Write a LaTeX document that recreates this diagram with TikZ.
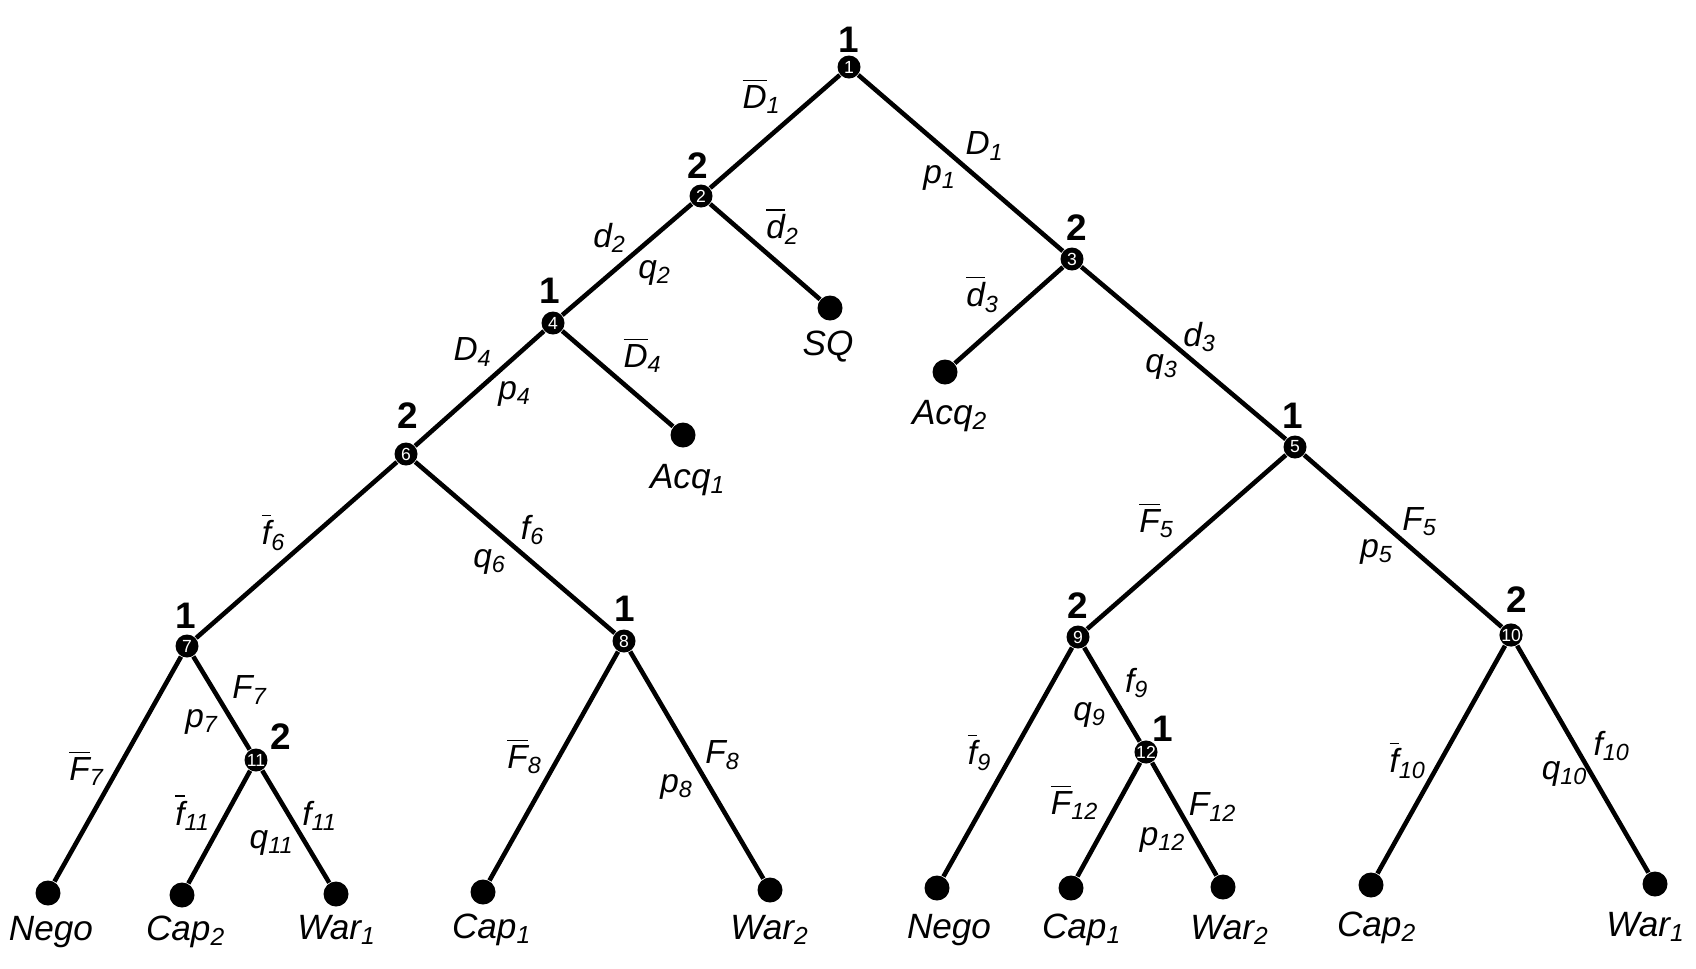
\documentclass[tikz,border=0pt]{standalone}
\usepackage{fontspec}
\setmainfont{Liberation Sans}
\usetikzlibrary{positioning}
\newcommand{\act}[2]{#1\textsubscript{#2}}
\newcommand{\nact}[2]{$\overline{\mbox{#1}}$\textsubscript{#2}}
\begin{document}
\begin{tikzpicture}[x=0.1mm, y=-0.1mm,
  move/.style={circle, fill=black, minimum size=2.3mm, inner sep=0pt, text=white,
               font=\fontsize{5}{5}\selectfont},
  leaf/.style={circle, fill=black, minimum size=2.5mm, inner sep=0pt},
  branch/.style={line width=1.3pt},
  player/.style={font=\bfseries\fontsize{10.5}{12}\selectfont, inner sep=1pt},
  actlab/.style={font=\itshape\fontsize{9.5}{11}\selectfont, inner sep=1pt},
  payoff/.style={font=\itshape\fontsize{10}{12}\selectfont, inner sep=1pt}]
\useasboundingbox (0,0) rectangle (1696,968);
% decision nodes
\node[move] (n1) at (849,67) {1};
\node[move] (n2) at (701,196) {2};
\node[move] (n3) at (1072,259) {3};
\node[move] (n4) at (553,323) {4};
\node[move] (n5) at (1295,447) {5};
\node[move] (n6) at (406,454) {6};
\node[move] (n7) at (187,646) {7};
\node[move] (n8) at (624,641) {8};
\node[move] (n9) at (1078,637) {9};
\node[move] (n10) at (1511,635) {10};
\node[move] (n11) at (256,760) {11};
\node[move] (n12) at (1146,752) {12};
% players
\node[player] (pl1) at (849,40) {1};
\node[player] (pl2) at (698,166) {2};
\node[player] (pl3) at (1077,228) {2};
\node[player] (pl4) at (550,291) {1};
\node[player] (pl5) at (1293,416) {1};
\node[player] (pl6) at (408,416) {2};
\node[player] (pl7) at (186,616) {1};
\node[player] (pl8) at (625,609) {1};
\node[player] (pl9) at (1078,606) {2};
\node[player] (pl10) at (1517,600) {2};
\node[player] (pl11) at (281,737) {2};
\node[player] (pl12) at (1163,729) {1};
% end points
\node[leaf] (sq) at (830,308) {};
\node[leaf] (acqa) at (683,435) {};
\node[leaf] (acqb) at (945,372) {};
\node[leaf] (negoa) at (48,893) {};
\node[leaf] (capba) at (182,895) {};
\node[leaf] (warab) at (336,894) {};
\node[leaf] (capaa) at (483,892) {};
\node[leaf] (warba) at (770,890) {};
\node[leaf] (negob) at (937,888) {};
\node[leaf] (capab) at (1071,888) {};
\node[leaf] (warbb) at (1223,887) {};
\node[leaf] (capbb) at (1371,885) {};
\node[leaf] (waraa) at (1655,884) {};
% outcomes
\node[payoff] (tsq) at (828,347) {SQ};
\node[payoff] (tacqa) at (688,480) {\act{Acq}{1}};
\node[payoff] (tacqb) at (950,416) {\act{Acq}{2}};
\node[payoff] (tnegoa) at (51,932) {Nego};
\node[payoff] (tcapba) at (186,932) {\act{Cap}{2}};
\node[payoff] (twarab) at (337,930) {\act{War}{1}};
\node[payoff] (tcapaa) at (492,930) {\act{Cap}{1}};
\node[payoff] (twarba) at (770,930) {\act{War}{2}};
\node[payoff] (tnegob) at (949,930) {Nego};
\node[payoff] (tcapab) at (1082,930) {\act{Cap}{1}};
\node[payoff] (twarbb) at (1230,930) {\act{War}{2}};
\node[payoff] (tcapbb) at (1377,928) {\act{Cap}{2}};
\node[payoff] (twaraa) at (1646,927) {\act{War}{1}};
% branches
\draw[branch] (n1)--(n2); \draw[branch] (n1)--(n3);
\draw[branch] (n2)--(n4); \draw[branch] (n2)--(sq);
\draw[branch] (n3)--(acqb); \draw[branch] (n3)--(n5);
\draw[branch] (n4)--(n6); \draw[branch] (n4)--(acqa);
\draw[branch] (n6)--(n7); \draw[branch] (n6)--(n8);
\draw[branch] (n7)--(negoa); \draw[branch] (n7)--(n11);
\draw[branch] (n11)--(capba); \draw[branch] (n11)--(warab);
\draw[branch] (n8)--(capaa); \draw[branch] (n8)--(warba);
\draw[branch] (n5)--(n9); \draw[branch] (n5)--(n10);
\draw[branch] (n9)--(negob); \draw[branch] (n9)--(n12);
\draw[branch] (n12)--(capab); \draw[branch] (n12)--(warbb);
\draw[branch] (n10)--(capbb); \draw[branch] (n10)--(waraa);
% actions and probabilities
\node[actlab] (aD1n) at (762,96) {\nact{D}{1}};
\node[actlab] (aD1) at (985,146) {\act{D}{1}};
\node[actlab] (ap1) at (940,178) {\act{p}{1}};
\node[actlab] (ad2n) at (783,226) {\nact{d}{2}};
\node[actlab] (ad2) at (610,238) {\act{d}{2}};
\node[actlab] (aq2) at (655,273) {\act{q}{2}};
\node[actlab] (aD4n) at (643,355) {\nact{D}{4}};
\node[actlab] (aD4) at (473,352) {\act{D}{4}};
\node[actlab] (ap4) at (515,394) {\act{p}{4}};
\node[actlab] (ad3n) at (983,294) {\nact{d}{3}};
\node[actlab] (ad3) at (1200,337) {\act{d}{3}};
\node[actlab] (aq3) at (1162,367) {\act{q}{3}};
\node[actlab] (af6n) at (274,532) {\nact{f}{6}};
\node[actlab] (af6) at (533,530) {\act{f}{6}};
\node[actlab] (aq6) at (490,562) {\act{q}{6}};
\node[actlab] (aF5n) at (1157,520) {\nact{F}{5}};
\node[actlab] (aF5) at (1420,522) {\act{F}{5}};
\node[actlab] (ap5) at (1377,552) {\act{p}{5}};
\node[actlab] (aF7n) at (87,768) {\nact{F}{7}};
\node[actlab] (aF7) at (250,690) {\act{F}{7}};
\node[actlab] (ap7) at (202,722) {\act{p}{7}};
\node[actlab] (af11n) at (193,812) {\nact{f}{11}};
\node[actlab] (af11) at (320,816) {\act{f}{11}};
\node[actlab] (aq11) at (272,843) {\act{q}{11}};
\node[actlab] (aF8n) at (525,756) {\nact{F}{8}};
\node[actlab] (aF8) at (723,755) {\act{F}{8}};
\node[actlab] (ap8) at (677,787) {\act{p}{8}};
\node[actlab] (af9n) at (980,752) {\nact{f}{9}};
\node[actlab] (af9) at (1137,683) {\act{f}{9}};
\node[actlab] (aq9) at (1090,715) {\act{q}{9}};
\node[actlab] (aF12n) at (1075,802) {\nact{F}{12}};
\node[actlab] (aF12) at (1213,807) {\act{F}{12}};
\node[actlab] (ap12) at (1163,840) {\act{p}{12}};
\node[actlab] (af10n) at (1408,760) {\nact{f}{10}};
\node[actlab] (af10) at (1612,746) {\act{f}{10}};
\node[actlab] (aq10) at (1565,774) {\act{q}{10}};
\end{tikzpicture}
\end{document}
